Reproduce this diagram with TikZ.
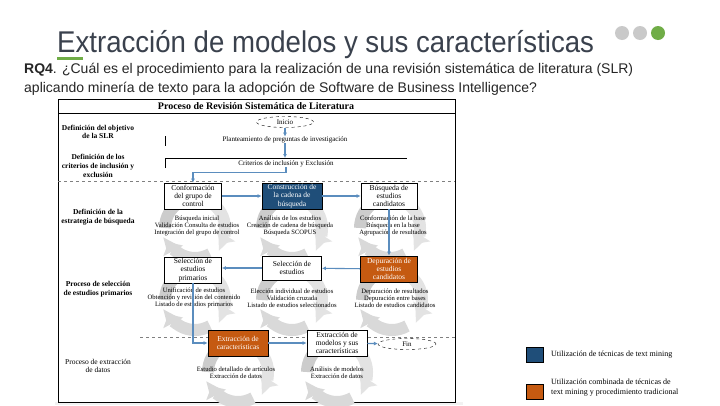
\documentclass[tikz,border=0pt]{standalone}
\usepackage{fontspec}
\setmainfont{Liberation Serif}
\newfontfamily\diapofont{Liberation Sans}
\usepackage{graphicx}
\usepackage{xcolor}
\usepackage{tikz}
\usetikzlibrary{positioning, shapes, calc, arrows.meta}

\definecolor{azulcadena}{HTML}{1F4E79}
\definecolor{naranja}{HTML}{C55A11}
\definecolor{conector}{HTML}{5B8DBE}
\definecolor{titulogris}{HTML}{3A414D}
\definecolor{verde}{HTML}{70AD47}
\definecolor{puntogris}{HTML}{C9C9C9}

\tikzset{
  caja/.style={draw=black, line width=0.8pt, fill=white, minimum width=57pt, minimum height=26pt,
    inner sep=1pt, align=center, font=\fontsize{7.5}{8.3}\selectfont},
  cajaazul/.style={caja, fill=azulcadena, text=white},
  cajanaranja/.style={caja, fill=naranja, text=white},
  flecha/.style={draw=conector, line width=1.1pt, -{Latex[length=4pt, width=4pt]}},
  nota/.style={align=center, inner sep=0pt, font=\fontsize{6.6}{6.9}\selectfont},
  etapa/.style={align=center, inner sep=0pt, font=\bfseries\fontsize{7.5}{8.6}\selectfont},
  limite/.style={ellipse, draw, dashed, minimum width=57pt, minimum height=11pt, inner sep=0pt,
    font=\fontsize{7}{7}\selectfont},
  separador/.style={draw=gray, dashed, line width=0.6pt},
}

% ciclo de flechas grises detras de cada paso
\newcommand{\ciclo}[1]{%
  \foreach \ang/\tono in {-60/22, 60/30, 180/40}{%
    \draw[line width=12pt, draw=gray!\tono, -{Triangle[length=10pt, width=22pt]}]
      ($(#1)+(\ang:30)$) arc[start angle=\ang, delta angle=92, radius=30];
  }}

\begin{document}
\begin{tikzpicture}[x=1pt, y=-1pt]
\useasboundingbox[fill=white] (0,0) rectangle (720,405);

% encabezado de la diapositiva
\node[anchor=base west, inner sep=0pt, text=titulogris, font=\diapofont\fontsize{30}{30}\selectfont]
  (titulo) at (57,52) {\scalebox{0.92}[1]{Extracción de modelos y sus características}};
\fill[verde] (57,57) rectangle (83,60);
\fill[puntogris] (622,33) circle (7);
\fill[puntogris] (640,33) circle (7);
\fill[verde] (658,33) circle (7);
\node[anchor=base west, inner sep=0pt, text=black!85, font=\diapofont\fontsize{14}{14}\selectfont]
  (pregunta1) at (24,73) {\textbf{RQ4}. ¿Cuál es el procedimiento para la realización de una revisión sistemática de literatura (SLR)};
\node[anchor=base west, inner sep=0pt, text=black!85, font=\diapofont\fontsize{14}{14}\selectfont]
  (pregunta2) at (24,92) {aplicando minería de texto para la adopción de Software de Business Intelligence?};

% marco del proceso
\fill[gray!10] (55,402) rectangle (463,405);
\draw[line width=0.8pt] (58,99) rectangle (455,402);
\draw[line width=0.8pt] (58,113) -- (455,113);
\node[font=\bfseries\fontsize{10}{10}\selectfont] (encabezado) at (256,106.5) {Proceso de Revisión Sistemática de Literatura};
\draw[separador] (58,181) -- (455,181);
\draw[separador] (140,337) -- (455,337);

% etapas
\node[etapa] (objetivo) at (98,132) {Definición del objetivo\\de la SLR};
\node[etapa] (criteriosEt) at (98,166) {Definición de los\\criterios de inclusión y\\exclusión};
\node[etapa] (estrategia) at (98,217) {Definición de la\\estrategia de búsqueda};
\node[etapa] (seleccionEt) at (98,289) {Proceso de selección\\de estudios primarios};
\node[etapa, font=\fontsize{7.5}{8.6}\selectfont] (extraccionEt) at (98,366) {Proceso de extracción\\de datos};

% ciclos
\coordinate (cicloA) at (195,228);
\coordinate (cicloB) at (292,228);
\coordinate (cicloC) at (390,228);
\coordinate (cicloD) at (195,300);
\coordinate (cicloE) at (292,300);
\coordinate (cicloF) at (392,300);
\coordinate (cicloG) at (238,372);
\coordinate (cicloH) at (337,372);
\foreach \c in {cicloA,cicloB,cicloC,cicloD,cicloE,cicloF,cicloG,cicloH}{\ciclo{\c}}

% objetivo y criterios
\node[limite] (inicio) at (285,122) {Inicio};
\node[inner sep=0pt, font=\fontsize{7}{7}\selectfont] (planteamiento) at (285,140) {Planteamiento de preguntas de investigación};
\draw[line width=0.8pt] (165,136) -- (165,146);
\node[inner sep=0pt, font=\fontsize{7}{7}\selectfont] (criterios) at (286,164) {Criterios de inclusión y Exclusión};
\draw[line width=0.8pt] (165,168) -- (165,158) -- (407,158);
\coordinate (criteriosTope) at (285,158);

% pasos
\node[caja] (conformacion) at (193,196) {Conformación\\del grupo de\\control};
\node[cajaazul, minimum width=60pt] (cadena) at (292,196) {Construcción de\\la cadena de\\búsqueda};
\node[caja, minimum width=56pt] (busqueda) at (389,196) {Búsqueda de\\estudios\\candidatos};
\node[caja] (primarios) at (193,270) {Selección de\\estudios\\primarios};
\node[caja, minimum width=59pt, minimum height=24pt] (seleccion) at (292,268) {Selección de\\estudios};
\node[cajanaranja] (depuracion) at (389,269) {Depuración de\\estudios\\candidatos};
\node[cajanaranja, minimum width=60pt] (caracteristicas) at (238,343) {Extracción de\\características};
\node[caja, minimum width=60pt] (modelos) at (337,343) {Extracción de\\modelos y sus\\características};
\node[limite, minimum width=58pt] (fin) at (407,344) {Fin};

% actividades
\node[nota] (notaConformacion) at (197,226) {Búsqueda inicial\\Validación Consulta de estudios\\Integración del grupo de control};
\node[nota] (notaCadena) at (290,226) {Análisis de los estudios\\Creación de cadena de búsqueda\\Búsqueda SCOPUS};
\node[nota] (notaBusqueda) at (393,226) {Conformación de la base\\Búsqueda en la base\\Agrupación de resultados};
\node[nota] (notaPrimarios) at (194,298) {Unificación de estudios\\Obtención y revisión del contenido\\Listado de estudios primarios};
\node[nota] (notaSeleccion) at (292,298) {Elección individual de estudios\\Validación cruzada\\Listado de estudios seleccionados};
\node[nota] (notaDepuracion) at (395,298) {Depuración de resultados\\Depuración entre bases\\Listado de estudios candidatos};
\node[nota] (notaCaracteristicas) at (236,373) {Estudio detallado de artículos\\Extracción de datos};
\node[nota] (notaModelos) at (337,373) {Análisis de modelos\\Extracción de datos};

% conectores
\draw[flecha] (inicio) -- (planteamiento);
\draw[flecha] (planteamiento.south) -- (criteriosTope);
\draw[flecha] (criterios.south) -- ++(0,5) -| (conformacion.north);
\draw[flecha] (conformacion) -- (cadena);
\draw[flecha] (cadena) -- (busqueda);
\draw[flecha] (busqueda.south) -- (busqueda.south |- depuracion.north);
\draw[flecha] (depuracion) -- (seleccion);
\draw[flecha] (seleccion.west) -- (seleccion.west -| primarios.east);
\draw[flecha] (primarios.south) |- (caracteristicas.west);
\draw[flecha] (caracteristicas) -- (modelos);
\draw[flecha] (modelos) -- (fin);

% leyenda
\draw[fill=azulcadena, line width=0.5pt] (526,347) rectangle (543,362);
\node[anchor=west, inner sep=0pt, font=\fontsize{8}{8}\selectfont] (leyendaAzul) at (551,354.5) {Utilización de técnicas de text mining};
\draw[fill=naranja, line width=0.5pt] (526,384) rectangle (543,399);
\node[anchor=west, inner sep=0pt, align=left, font=\fontsize{8}{10}\selectfont] (leyendaNaranja) at (551,388) {Utilización combinada de técnicas de\\text mining y procedimiento tradicional};
\end{tikzpicture}
\end{document}
